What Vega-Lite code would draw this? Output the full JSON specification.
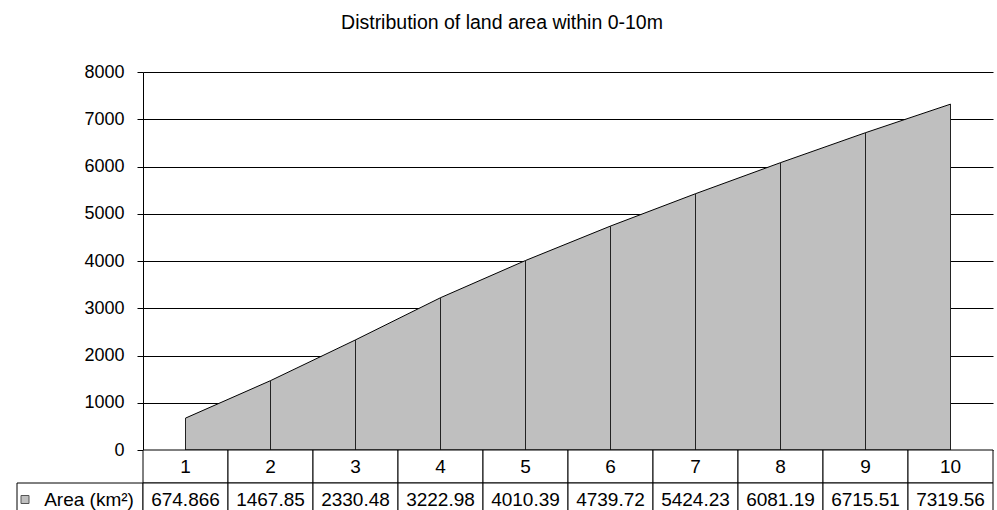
{
  "$schema": "https://vega.github.io/schema/vega-lite/v6.json",
  "padding": {"left": 16, "top": 12, "right": 5, "bottom": 0},
  "background": "white",
  "title": {
    "text": "Distribution of land area within 0-10m",
    "fontSize": 19.5,
    "fontWeight": "normal",
    "font": "Liberation Sans",
    "color": "black",
    "anchor": "middle",
    "offset": 30,
    "dx": -3
  },
  "config": {
    "font": "Liberation Sans",
    "view": {"stroke": null},
    "text": {"fontSize": 19, "color": "black"}
  },
  "datasets": {
    "land": [
      {"depth": 1, "area": 674.866},
      {"depth": 2, "area": 1467.85},
      {"depth": 3, "area": 2330.48},
      {"depth": 4, "area": 3222.98},
      {"depth": 5, "area": 4010.39},
      {"depth": 6, "area": 4739.72},
      {"depth": 7, "area": 5424.23},
      {"depth": 8, "area": 6081.19},
      {"depth": 9, "area": 6715.51},
      {"depth": 10, "area": 7319.56}
    ]
  },
  "columns": 2,
  "spacing": 0,
  "bounds": "flush",
  "align": "each",
  "concat": [
    {
      "width": 126,
      "height": 378,
      "data": {"values": []},
      "mark": {"type": "point", "opacity": 0},
      "encoding": {}
    },
    {
      "width": 850,
      "height": 378,
      "data": {"name": "land"},
      "layer": [
        {
          "mark": {"type": "area", "fill": "#bfbfbf", "stroke": "black", "strokeWidth": 1},
          "encoding": {
            "x": {"field": "depth", "type": "ordinal", "scale": {"paddingInner": 0, "paddingOuter": 0}, "axis": null},
            "y": {
              "field": "area",
              "type": "quantitative",
              "scale": {"domain": [0, 8000], "nice": false},
              "axis": {
                "values": [0, 1000, 2000, 3000, 4000, 5000, 6000, 7000, 8000],
                "title": null,
                "format": "d",
                "grid": true,
                "gridColor": "black",
                "gridOpacity": 1,
                "domainColor": "black",
                "tickColor": "black",
                "tickSize": 6,
                "labelPadding": 13,
                "labelFontSize": 18,
                "labelColor": "black",
                "labelFont": "Liberation Sans"
              }
            }
          }
        },
        {
          "mark": {"type": "rule", "color": "#222", "strokeWidth": 1},
          "encoding": {
            "x": {"field": "depth", "type": "ordinal", "axis": null},
            "y": {"field": "area", "type": "quantitative"},
            "y2": {"datum": 0}
          }
        }
      ]
    },
    {
      "width": 126,
      "height": 66,
      "data": {"values": [{"label": "Area (km²)"}]},
      "layer": [
        {
          "mark": {"type": "rect", "fill": "white", "stroke": "black", "strokeWidth": 1},
          "encoding": {
            "y": {"datum": "v", "type": "ordinal", "scale": {"domain": ["c", "v"], "paddingInner": 0, "paddingOuter": 0}, "axis": null}
          }
        },
        {
          "mark": {"type": "text", "fontSize": 19, "xOffset": 9},
          "encoding": {
            "y": {"datum": "v", "type": "ordinal"},
            "text": {"field": "label"}
          }
        },
        {
          "mark": {"type": "point", "shape": "square", "size": 64, "filled": true, "fill": "#bfbfbf", "stroke": "#555", "strokeWidth": 1, "opacity": 1, "xOffset": -55},
          "encoding": {
            "y": {"datum": "v", "type": "ordinal"}
          }
        }
      ]
    },
    {
      "width": 850,
      "height": 66,
      "data": {"name": "land"},
      "encoding": {
        "x": {"field": "depth", "type": "ordinal", "scale": {"paddingInner": 0, "paddingOuter": 0}, "axis": null}
      },
      "layer": [
        {
          "mark": {"type": "rect", "fill": "white", "stroke": "black", "strokeWidth": 1},
          "encoding": {
            "y": {"datum": "c", "type": "ordinal", "scale": {"domain": ["c", "v"], "paddingInner": 0, "paddingOuter": 0}, "axis": null}
          }
        },
        {
          "mark": {"type": "rect", "fill": "white", "stroke": "black", "strokeWidth": 1},
          "encoding": {
            "y": {"datum": "v", "type": "ordinal"}
          }
        },
        {
          "mark": {"type": "text", "fontSize": 19},
          "encoding": {
            "y": {"datum": "c", "type": "ordinal"},
            "text": {"field": "depth", "type": "nominal"}
          }
        },
        {
          "mark": {"type": "text", "fontSize": 19},
          "encoding": {
            "y": {"datum": "v", "type": "ordinal"},
            "text": {"field": "area", "type": "nominal"}
          }
        }
      ]
    }
  ]
}
